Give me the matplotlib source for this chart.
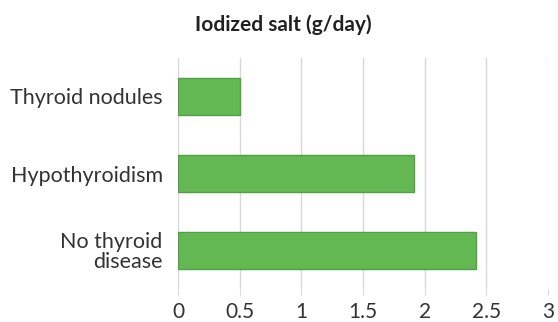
import matplotlib.pyplot as plt

categories = ['No thyroid\ndisease', 'Hypothyroidism', 'Thyroid nodules']
salt_g_per_day = [2.42, 1.91, 0.50]
x_ticks = [0, 0.5, 1, 1.5, 2, 2.5, 3]
x_tick_labels = ['0', '0.5', '1', '1.5', '2', '2.5', '3']

plt.rcParams['font.family'] = ['Lato', 'DejaVu Sans']

fig = plt.figure(figsize=(5.58, 3.22), dpi=100)
ax = fig.add_axes([0.319, 1 - 289 / 322, 0.663, 231 / 322])

ax.barh(range(len(categories)), salt_g_per_day, height=0.49,
        color='#63b854', edgecolor='#52a044', linewidth=1.0, zorder=3)

ax.set_xlim(0, 3)
ax.set_ylim(-0.5, len(categories) - 0.5)
ax.set_xticks(x_ticks)
ax.set_xticklabels(x_tick_labels, fontsize=15, color='#333333')
ax.set_yticks(range(len(categories)))
ax.set_yticklabels(categories, fontsize=15.5, color='#333333', linespacing=0.95)
ax.xaxis.grid(True, color='#d9d9d9', linewidth=1.0, zorder=0)
ax.tick_params(axis='x', length=4, color='#d9d9d9', pad=5)
ax.tick_params(axis='y', length=0, pad=11)
for side in ['top', 'right', 'bottom', 'left']:
    ax.spines[side].set_visible(False)

fig.text(0.507, 0.922, 'Iodized salt (g/day)', ha='center', va='center',
         fontsize=15, fontweight='bold', color='#222222')

fig.savefig('out.png', dpi=100, facecolor='white')
